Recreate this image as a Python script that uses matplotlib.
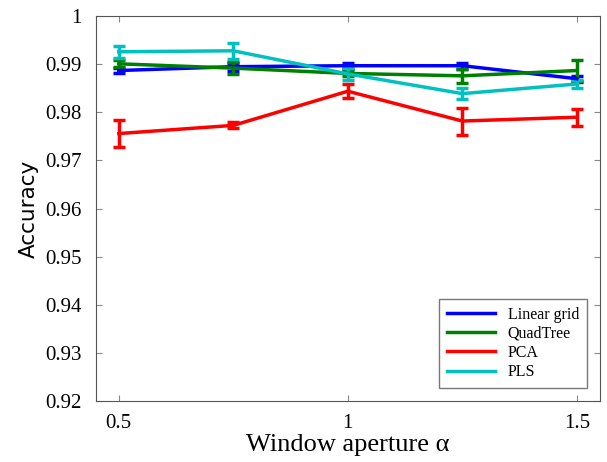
import matplotlib
matplotlib.use("Agg")
import matplotlib.pyplot as plt
from matplotlib.lines import Line2D

alpha = [0.5, 0.75, 1.0, 1.25, 1.5]

lin_grid = [0.9887, 0.9895, 0.9897, 0.9897, 0.9870]
lin_grid_err = [0.0005, 0.0008, 0.0006, 0.0006, 0.0006]
quadtree = [0.9901, 0.9892, 0.9881, 0.9876, 0.9887]
quadtree_err = [0.0007, 0.0012, 0.0005, 0.0015, 0.0022]
pca = [0.9756, 0.9773, 0.9844, 0.9782, 0.9790]
pca_err = [0.0028, 0.0006, 0.0014, 0.0028, 0.0018]
pls = [0.9926, 0.9928, 0.9880, 0.9839, 0.9859]
pls_err = [0.0012, 0.0016, 0.0012, 0.0011, 0.0008]

plt.rcParams['font.family'] = ['Liberation Serif', 'DejaVu Serif']

fig = plt.figure(figsize=(6.07, 4.62), dpi=100)
ax = fig.add_axes([0.158, 0.132, 0.83, 0.833])

series = [
	(lin_grid, lin_grid_err, 'Linear grid', '#0000ff'),
	(quadtree, quadtree_err, 'QuadTree', '#008000'),
	(pca, pca_err, 'PCA', '#ff0000'),
	(pls, pls_err, 'PLS', '#00c0c0'),
]
handles = []
for vals, errs, name, col in series:
	ax.errorbar(alpha, vals, yerr=errs, color=col, lw=2.5, capsize=4,
			capthick=2.5, elinewidth=2.5)
	handles.append(Line2D([], [], color=col, lw=2.5, label=name))

ax.set_xlim(0.45, 1.55)
ax.set_ylim(0.92, 1.0)
ax.set_xticks([0.5, 1, 1.5])
ax.set_xticklabels(['0.5', '1', '1.5'])
ax.set_yticks([0.92, 0.93, 0.94, 0.95, 0.96, 0.97, 0.98, 0.99, 1.0])
ax.set_yticklabels(['0.92', '0.93', '0.94', '0.95', '0.96', '0.97', '0.98', '0.99', '1'])
ax.tick_params(direction='in', top=True, right=True, labelsize=15, length=4,
		color='#888888')
ax.tick_params(axis='y', pad=10)
ax.tick_params(axis='x', pad=9)
for s in ax.spines.values():
	s.set_color('#555555')

ax.set_xlabel('Window aperture \u03b1', fontsize=19, labelpad=1)
ax.set_ylabel('Accuracy', fontsize=15.5, family=['DejaVu Sans'], labelpad=5)

leg = ax.legend(handles=handles, loc='lower right', fontsize=11.5, frameon=True,
		fancybox=False, edgecolor='#555555', handlelength=3.0,
		labelspacing=0.2, borderaxespad=0.8, borderpad=0.5)
leg.get_frame().set_linewidth(1.0)

fig.savefig('out.png', dpi=100)
